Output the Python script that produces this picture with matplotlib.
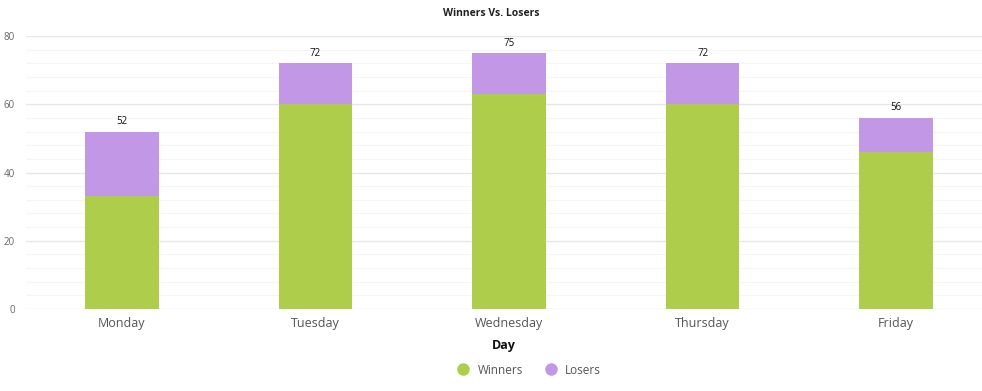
import matplotlib
matplotlib.use("Agg")
from matplotlib import pyplot as plt
from matplotlib.lines import Line2D
import numpy as np

plt.rcParams['font.family'] = ['Open Sans', 'DejaVu Sans']

days = ["Monday", "Tuesday", "Wednesday", "Thursday", "Friday"]
winners = [33, 60, 63, 60, 46]
losers = [19, 12, 12, 12, 10]
totals = [52, 72, 75, 72, 56]

green = "#adcd4b"
purple = "#c298e6"

fig = plt.figure(figsize=(9.82, 3.91), dpi=100)
ax = fig.add_axes([26 / 982, 1 - 309 / 391, 956 / 982, 273 / 391])

x = np.arange(len(days))
ax.bar(x, winners, width=0.38, color=green, zorder=3)
ax.bar(x, losers, bottom=winners, width=0.38, color=purple, zorder=3)

for xi, t in zip(x, totals):
    ax.text(xi, t + 1.3, str(t), ha="center", va="bottom", fontsize=7, color="#111111")

ax.set_xlim(-96 / 194, 4 + 86 / 194)
ax.set_ylim(0, 80)
ax.set_yticks([0, 20, 40, 60, 80])
ax.set_yticks(np.arange(0, 81, 4), minor=True)
ax.grid(axis="y", which="major", color="#e6e6e6", linewidth=1, zorder=0)
ax.grid(axis="y", which="minor", color="#f5f5f5", linewidth=0.8, zorder=0)
ax.tick_params(axis="y", which="both", length=0, labelsize=7, labelcolor="#666666", pad=8)
ax.tick_params(axis="x", length=0, labelsize=9, labelcolor="#555555", pad=6)
ax.set_xticks(x)
ax.set_xticklabels(days)
for s in ax.spines.values():
    s.set_visible(False)

ax.set_xlabel("Day", fontsize=9, fontweight="bold", color="#111111", labelpad=6)
fig.text(0.5, 1 - 14 / 391, "Winners Vs. Losers", ha="center", va="center",
         fontsize=7.5, fontweight="bold", color="#222222")

handles = [Line2D([], [], marker="o", linestyle="", markersize=8, color=green),
           Line2D([], [], marker="o", linestyle="", markersize=8, color=purple)]
leg = fig.legend(handles, ["Winners", "Losers"], loc="center", ncol=2,
                 bbox_to_anchor=(0.536, 1 - 370 / 391), frameon=False,
                 fontsize=8.5, handletextpad=0.2, columnspacing=1.4)
for t in leg.get_texts():
    t.set_color("#555555")

fig.savefig("out.png", dpi=100)
